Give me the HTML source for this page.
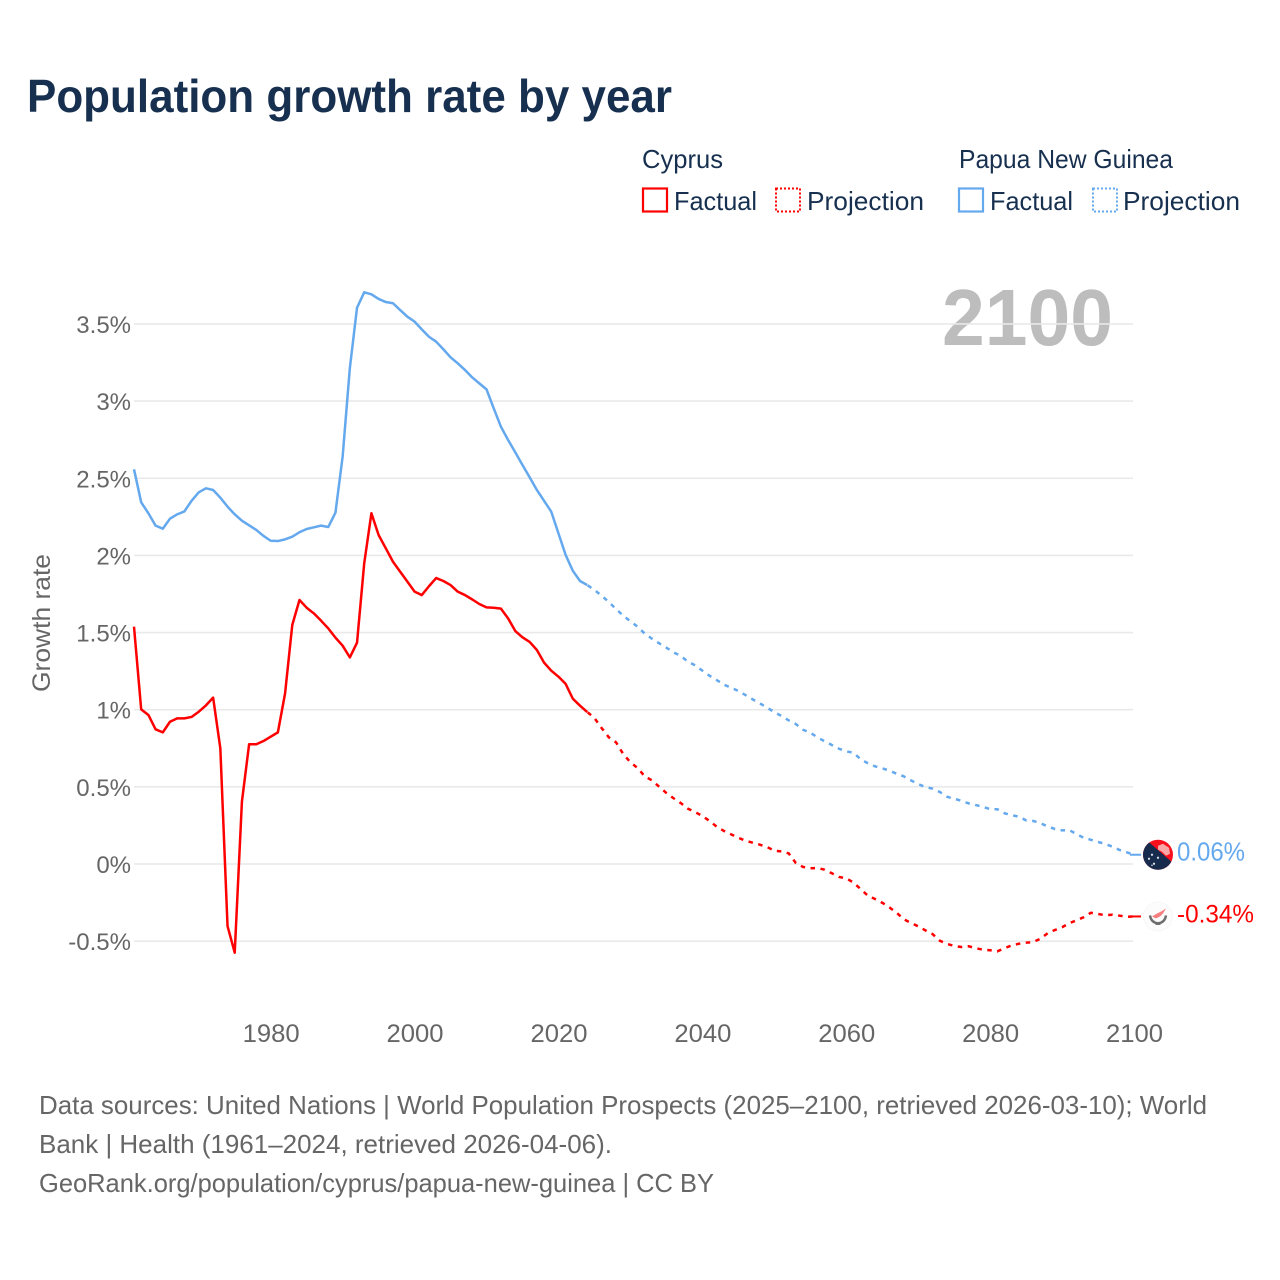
<!DOCTYPE html>
<html lang="en">
<head>
<meta charset="utf-8">
<title>Population growth rate by year</title>
<style>
  html, body { margin: 0; padding: 0; background: #fff; }
  svg { display: block; font-family: "Liberation Sans", sans-serif; }
</style>
</head>
<body>
<svg id="chart" xmlns="http://www.w3.org/2000/svg" width="1280" height="1280" viewBox="0 0 1280 1280">
  <defs>
    <clipPath id="flag-clip"><circle cx="0" cy="0" r="15"></circle></clipPath>
  </defs>
  <rect x="0" y="0" width="1280" height="1280" fill="#ffffff"></rect>

  <text x="27" y="112" font-size="46" font-weight="700" fill="#17304f" textLength="645" lengthAdjust="spacingAndGlyphs">Population growth rate by year</text>

  <g font-size="26" fill="#17304f">
    <text x="642" y="168" textLength="81" lengthAdjust="spacingAndGlyphs">Cyprus</text>
    <text x="959" y="168" textLength="214" lengthAdjust="spacingAndGlyphs">Papua New Guinea</text>
    <rect x="643" y="188.5" width="24" height="23" fill="none" stroke="#ff0000" stroke-width="2.2"></rect>
    <text x="674" y="210" textLength="83" lengthAdjust="spacingAndGlyphs">Factual</text>
    <rect x="776" y="188.5" width="24" height="23" fill="none" stroke="#ff0000" stroke-width="2" stroke-dasharray="2 2"></rect>
    <text x="807" y="210" textLength="117" lengthAdjust="spacingAndGlyphs">Projection</text>
    <rect x="959" y="188.5" width="24" height="23" fill="none" stroke="#64a8ee" stroke-width="2.2"></rect>
    <text x="990" y="210" textLength="83" lengthAdjust="spacingAndGlyphs">Factual</text>
    <rect x="1093" y="188.5" width="24" height="23" fill="none" stroke="#64a8ee" stroke-width="2" stroke-dasharray="2 2"></rect>
    <text x="1123" y="210" textLength="117" lengthAdjust="spacingAndGlyphs">Projection</text>
  </g>

  <text x="942" y="345" font-size="80" font-weight="700" fill="#bdbdbd" textLength="171" lengthAdjust="spacingAndGlyphs">2100</text>

  <text transform="translate(50,692) rotate(-90)" font-size="25" fill="#666666" textLength="138" lengthAdjust="spacingAndGlyphs">Growth rate</text>

  <g id="grid"></g>
  <g id="y-ticks"></g>
  <g id="x-ticks"></g>
  <g id="series"></g>

  <g id="flag-png">
    <g clip-path="url(#flag-clip)">
      <rect x="-16" y="-16" width="32" height="32" fill="#fb0f1d"></rect>
      <polygon points="-16,-18.5 16,9.1 16,16 -16,16" fill="#172b4d"></polygon>
      <path d="M0,-9 L5,-11 L11,-7 L12,-1 L8,1 L4,-3 L0,-5 Z" fill="#f9a6a6"></path>
      <g fill="#dfe3ea">
        <circle cx="-6" cy="0" r="1.1"></circle>
        <circle cx="0" cy="3" r="1.1"></circle>
        <circle cx="-9" cy="4" r="1.1"></circle>
        <circle cx="-4" cy="9" r="1.1"></circle>
        <circle cx="-6" cy="10.5" r="0.8"></circle>
      </g>
    </g>
  </g>

  <g id="flag-cyprus">
    <circle cx="0" cy="0" r="14.5" fill="#fcfcfc" stroke="#f0f0f0" stroke-width="1" stroke-dasharray="1 1"></circle>
    <path d="M-6,0 L-1,-3 L3,-5 L8,-8 L5,-3 L2,0 L-2,2 Z" fill="#f57f7f"></path>
    <path d="M-8,-1 Q-7,6 0,7 Q7,6 8,-1" fill="none" stroke="#6e6e6e" stroke-width="2.4"></path>
    <rect x="-2.5" y="5.5" width="5" height="3" fill="#6e6e6e"></rect>
  </g>

  <text id="end-label-png" x="1177" font-size="26" fill="#64a8ee" textLength="68" lengthAdjust="spacingAndGlyphs">0.06%</text>
  <text id="end-label-cyprus" x="1177" font-size="25" fill="#ff0000" textLength="77" lengthAdjust="spacingAndGlyphs">-0.34%</text>

  <g font-size="26" fill="#666666">
    <text x="39" y="1114" textLength="1168" lengthAdjust="spacingAndGlyphs">Data sources: United Nations | World Population Prospects (2025–2100, retrieved 2026-03-10); World</text>
    <text x="39" y="1153" textLength="573" lengthAdjust="spacingAndGlyphs">Bank | Health (1961–2024, retrieved 2026-04-06).</text>
    <text x="39" y="1192" textLength="675" lengthAdjust="spacingAndGlyphs">GeoRank.org/population/cyprus/papua-new-guinea | CC BY</text>
  </g>
</svg>

<script>
var factualStartYear = 1961;
var projectionStartYear = 2025;
var xTickYears = [1980, 2000, 2020, 2040, 2060, 2080, 2100];
var yTickValues = [-0.5, 0, 0.5, 1, 1.5, 2, 2.5, 3, 3.5];
var yTickLabels = ["-0.5%", "0%", "0.5%", "1%", "1.5%", "2%", "2.5%", "3%", "3.5%"];

var cyprusFactual = [1.538, 1.002, 0.966, 0.873, 0.853, 0.922, 0.944, 0.944, 0.953, 0.987,
  1.028, 1.078, 0.75, -0.402, -0.575, 0.404, 0.776, 0.776, 0.797, 0.825,
  0.853, 1.106, 1.549, 1.711, 1.661, 1.624, 1.577, 1.527, 1.467, 1.415,
  1.339, 1.434, 1.949, 2.273, 2.132, 2.046, 1.959, 1.894, 1.83, 1.765,
  1.743, 1.80, 1.853, 1.834, 1.808, 1.765, 1.743, 1.715, 1.685, 1.663,
  1.661, 1.655, 1.592, 1.51, 1.469, 1.439, 1.387, 1.305, 1.253, 1.214,
  1.167, 1.071, 1.026, 0.985];

var cyprusProjection = [0.946, 0.881, 0.821, 0.789, 0.713, 0.659, 0.622, 0.568, 0.542, 0.501,
  0.460, 0.426, 0.395, 0.358, 0.337, 0.311, 0.279, 0.242, 0.214, 0.192,
  0.170, 0.151, 0.138, 0.125, 0.110, 0.086, 0.082, 0.069, 0.006, -0.019,
  -0.028, -0.026, -0.037, -0.060, -0.084, -0.093, -0.120, -0.162, -0.205, -0.227,
  -0.251, -0.281, -0.316, -0.358, -0.382, -0.404, -0.430, -0.454, -0.497, -0.518,
  -0.531, -0.538, -0.533, -0.546, -0.555, -0.559, -0.566, -0.546, -0.527, -0.517,
  -0.510, -0.506, -0.484, -0.449, -0.428, -0.410, -0.384, -0.365, -0.345, -0.316,
  -0.324, -0.332, -0.329, -0.335, -0.342, -0.34];

var pngFactual = [2.558, 2.344, 2.273, 2.193, 2.173, 2.238, 2.266, 2.285, 2.354, 2.409,
  2.435, 2.424, 2.374, 2.316, 2.266, 2.225, 2.195, 2.165, 2.126, 2.095,
  2.093, 2.104, 2.121, 2.15, 2.171, 2.182, 2.193, 2.184, 2.277, 2.64,
  3.213, 3.605, 3.705, 3.692, 3.662, 3.642, 3.634, 3.59, 3.547, 3.515,
  3.465, 3.417, 3.385, 3.336, 3.284, 3.245, 3.202, 3.154, 3.115, 3.076,
  2.953, 2.834, 2.748, 2.668, 2.586, 2.506, 2.424, 2.354, 2.283, 2.143,
  2.003, 1.90, 1.834, 1.808];

var pngProjection = [1.776, 1.739, 1.698, 1.653, 1.609, 1.573, 1.538, 1.493, 1.460, 1.430,
  1.402, 1.372, 1.348, 1.311, 1.288, 1.253, 1.220, 1.192, 1.162, 1.143,
  1.121, 1.095, 1.067, 1.041, 1.013, 0.985, 0.959, 0.931, 0.907, 0.870,
  0.851, 0.821, 0.795, 0.771, 0.747, 0.730, 0.721, 0.679, 0.653, 0.633,
  0.620, 0.605, 0.585, 0.568, 0.542, 0.518, 0.499, 0.488, 0.467, 0.436,
  0.423, 0.410, 0.393, 0.382, 0.371, 0.355, 0.355, 0.329, 0.316, 0.307,
  0.283, 0.279, 0.264, 0.244, 0.227, 0.218, 0.220, 0.194, 0.170, 0.157,
  0.143, 0.130, 0.112, 0.091, 0.076, 0.06];

var SVG_NS = "http://www.w3.org/2000/svg";

function xScale(year) {
  return 134 + (year - 1961) * (1000 / 139);
}
function yScale(value) {
  return 864 - value * 154.3;
}
function seriesPath(values, startYear, priorYear, priorValue) {
  var d = "";
  if (priorYear !== null) {
    d += "M" + xScale(priorYear).toFixed(2) + "," + yScale(priorValue).toFixed(2);
  }
  for (var i = 0; i < values.length; i++) {
    var cmd = (d === "") ? "M" : "L";
    d += cmd + xScale(startYear + i).toFixed(2) + "," + yScale(values[i]).toFixed(2);
  }
  return d;
}
function addLine(values, startYear, priorYear, priorValue, color, dashed) {
  var p = document.createElementNS(SVG_NS, "path");
  p.setAttribute("d", seriesPath(values, startYear, priorYear, priorValue));
  p.setAttribute("fill", "none");
  p.setAttribute("stroke", color);
  p.setAttribute("stroke-width", "2.5");
  p.setAttribute("stroke-linejoin", "round");
  if (dashed) {
    p.setAttribute("stroke-dasharray", "4.5 5.5");
    p.setAttribute("stroke-dashoffset", "9.5");
  }
  document.getElementById("series").appendChild(p);
  return p;
}
function addLeader(value, color) {
  var l = document.createElementNS(SVG_NS, "line");
  l.setAttribute("x1", xScale(2100) - 4);
  l.setAttribute("x2", xScale(2100) + 7);
  l.setAttribute("y1", yScale(value));
  l.setAttribute("y2", yScale(value));
  l.setAttribute("stroke", color);
  l.setAttribute("stroke-width", "2");
  document.getElementById("series").appendChild(l);
  return l;
}

var gridGroup = document.getElementById("grid");
var yTickGroup = document.getElementById("y-ticks");
var xTickGroup = document.getElementById("x-ticks");

yTickValues.forEach(function (value, i) {
  var line = document.createElementNS(SVG_NS, "line");
  line.setAttribute("x1", xScale(1961));
  line.setAttribute("x2", "1133");
  line.setAttribute("y1", yScale(value));
  line.setAttribute("y2", yScale(value));
  line.setAttribute("stroke", "#e9e9e9");
  line.setAttribute("stroke-width", "1.6");
  
  
  gridGroup.appendChild(line);

  var label = document.createElementNS(SVG_NS, "text");
  label.setAttribute("x", "131");
  label.setAttribute("y", yScale(value) + 9);
  label.setAttribute("text-anchor", "end");
  label.setAttribute("font-size", "24");
  label.setAttribute("fill", "#666666");
  label.textContent = yTickLabels[i];
  
  
  yTickGroup.appendChild(label);
});

xTickYears.forEach(function (year) {
  var label = document.createElementNS(SVG_NS, "text");
  label.setAttribute("x", xScale(year) - 28);
  label.setAttribute("y", "1042");
  label.setAttribute("font-size", "25");
  label.setAttribute("fill", "#666666");
  label.setAttribute("textLength", "57");
  label.setAttribute("lengthAdjust", "spacingAndGlyphs");
  label.textContent = String(year);
  
  
  xTickGroup.appendChild(label);
});

var factualEndYear = factualStartYear + cyprusFactual.length - 1;

var pngSolid = addLine(pngFactual, factualStartYear, null, null, "#64a8ee", false);



var pngDashed = addLine(pngProjection, projectionStartYear, factualEndYear, pngFactual[pngFactual.length - 1], "#64a8ee", true);



var cyprusSolid = addLine(cyprusFactual, factualStartYear, null, null, "#ff0000", false);



var cyprusDashed = addLine(cyprusProjection, projectionStartYear, factualEndYear, cyprusFactual[cyprusFactual.length - 1], "#ff0000", true);



var pngEnd = pngProjection[pngProjection.length - 1];
var cyprusEnd = cyprusProjection[cyprusProjection.length - 1];

var pngLeader = addLeader(pngEnd, "#64a8ee");



var cyprusLeader = addLeader(cyprusEnd, "#ff0000");



document.getElementById("flag-png").setAttribute("transform", "translate(1158," + yScale(pngEnd) + ")");
document.getElementById("flag-cyprus").setAttribute("transform", "translate(1158," + yScale(cyprusEnd) + ")");
document.getElementById("end-label-png").setAttribute("y", yScale(pngEnd) + 6);
document.getElementById("end-label-cyprus").setAttribute("y", yScale(cyprusEnd) + 6);
</script>
</body>
</html>
